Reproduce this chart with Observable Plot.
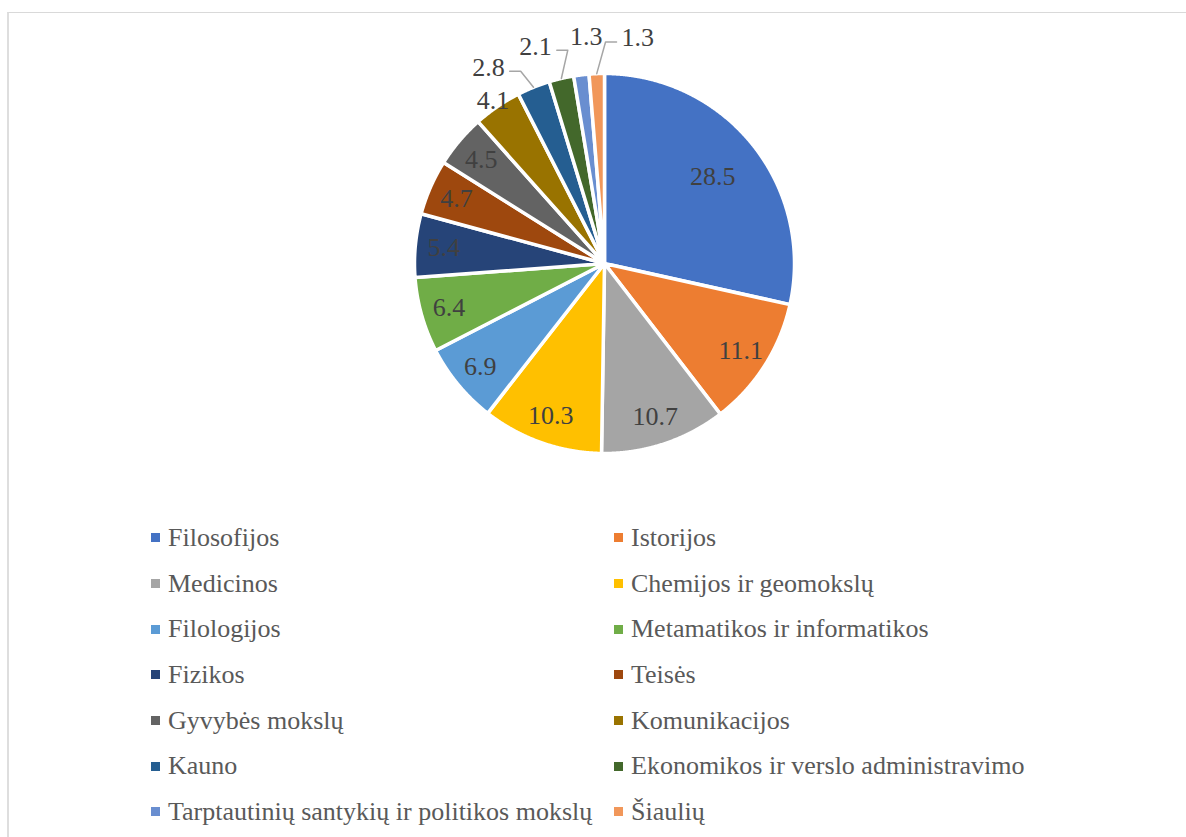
<!DOCTYPE html>
<html><head><meta charset="utf-8">
<script src="https://cdn.jsdelivr.net/npm/d3@7"></script>
<script src="https://cdn.jsdelivr.net/npm/@observablehq/plot@0.6"></script>
<style>
html,body{margin:0;padding:0;background:#fff;overflow:hidden;}
#wrap{position:relative;width:1186px;height:837px;overflow:hidden;font-family:"Liberation Serif","Times New Roman",serif;}
#frame{position:absolute;left:7px;top:12px;width:1300px;height:1000px;border-top:1px solid #d9d9d9;border-left:2px solid #dedede;}
#chart{position:absolute;left:0;top:0;}
#legend{position:absolute;left:151px;top:515px;display:grid;grid-template-columns:463px auto;grid-auto-rows:45.7px;}
.item{display:flex;align-items:center;font-size:26px;line-height:45.7px;color:#595959;white-space:nowrap;}
.sw{width:9px;height:9px;margin-right:8px;flex:none;}
</style></head>
<body>
<div id="wrap">
  <div id="frame"></div>
  <div id="chart"></div>
  <div id="legend"></div>
</div>
<script>
const categories = ["Filosofijos","Istorijos","Medicinos","Chemijos ir geomokslų","Filologijos","Metamatikos ir informatikos","Fizikos","Teisės","Gyvybės mokslų","Komunikacijos","Kauno","Ekonomikos ir verslo administravimo","Tarptautinių santykių ir politikos mokslų","Šiaulių"];
const values = [28.5,11.1,10.7,10.3,6.9,6.4,5.4,4.7,4.5,4.1,2.8,2.1,1.3,1.3];
const colors = ["#4472C4","#ED7D31","#A5A5A5","#FFC000","#5B9BD5","#70AD47","#264478","#9E480E","#636363","#997300","#255E91","#43682B","#698ED0","#F1975A"];

const data = categories.map((name, i) => ({name, value: values[i]}));

// layout
const W = 1186, H = 480, mL = 414, mR = 392, mT = 73, mB = 27;
const rpx = (W - mL - mR) / 2;
const fontSize = 26;
const fmt = d3.format(".1f");
const textW = s => fontSize * [...s].reduce((a, c) => a + (c === "." ? 0.25 : 0.5), 0);

const arcs = d3.pie().sort(null).value(d => d.value)(data);

// slice polygons in unit-circle coordinates
const slicePts = [];
for (const a of arcs) {
  const nm = a.data.name;
  slicePts.push({name: nm, x: 0, y: 0});
  const n = Math.max(2, Math.ceil((a.endAngle - a.startAngle) / 0.004));
  for (let k = 0; k <= n; k++) {
    const t = a.startAngle + (a.endAngle - a.startAngle) * k / n;
    slicePts.push({name: nm, x: Math.sin(t), y: Math.cos(t)});
  }
  slicePts.push({name: nm, x: 0, y: 0});
}

// labels
const labels = arcs.map(a => {
  const mid = (a.startAngle + a.endAngle) / 2;
  const span = a.endAngle - a.startAngle;
  const txt = fmt(a.data.value);
  const w = textW(txt);
  let tier;
  if (span * 0.85 * rpx >= w + 12) tier = "in";
  else if (span * rpx >= w + 12) tier = "near";
  else tier = "far";
  return {name: a.data.name, mid, ang: mid, txt, w, tier,
          r: tier === "in" ? (span > 1.2 ? 0.73 : 0.85) : tier === "near" ? 1.04 : 1.2};
});
// spread far labels so they don't collide (mean preserving)
const far = labels.filter(l => l.tier === "far").sort((a, b) => a.mid - b.mid);
if (far.length > 1) {
  const step = 13 * Math.PI / 180;
  const mean = d3.mean(far, l => l.mid);
  far.forEach((l, i) => { l.ang = mean + (i - (far.length - 1) / 2) * step; });
}
labels.forEach(l => { l.x = l.r * Math.sin(l.ang); l.y = l.r * Math.cos(l.ang); });

// leader lines for far labels moved away from their slice
const leaders = [];
for (const l of far) {
  if (Math.abs(l.ang - l.mid) < 2.5 * Math.PI / 180) continue;
  const ex = Math.sin(l.mid), ey = Math.cos(l.mid);
  const side = l.x < ex ? 1 : -1;
  const yl = l.y - 4 / rpx;
  const endX = l.x + side * (l.w / 2 + 5) / rpx;
  const elbX = endX + side * 11 / rpx;
  leaders.push({name: l.name, x: ex, y: ey}, {name: l.name, x: elbX, y: yl}, {name: l.name, x: endX, y: yl});
}

const chart = Plot.plot({
  width: W, height: H,
  marginLeft: mL, marginRight: mR, marginTop: mT, marginBottom: mB,
  x: {domain: [-1, 1], axis: null},
  y: {domain: [-1, 1], axis: null},
  color: {domain: categories, range: colors},
  style: {fontFamily: "'Liberation Serif', 'Times New Roman', serif", background: "transparent"},
  marks: [
    Plot.line(slicePts, {x: "x", y: "y", z: "name", fill: "name", stroke: "white", strokeWidth: 3.5, strokeLinejoin: "round", curve: "linear"}),
    Plot.line(leaders, {x: "x", y: "y", z: "name", stroke: "#a6a6a6", strokeWidth: 1.5, curve: "linear"}),
    Plot.text(labels, {x: "x", y: "y", text: "txt", fontSize: fontSize, fill: "#404040", textAnchor: "middle", lineAnchor: "middle"})
  ]
});
document.getElementById("chart").appendChild(chart);

// legend (row-major, two columns)
const leg = document.getElementById("legend");
categories.forEach((c, i) => {
  const it = document.createElement("div");
  it.className = "item";
  const sw = document.createElement("span");
  sw.className = "sw";
  sw.style.background = colors[i];
  const t = document.createElement("span");
  t.textContent = c;
  it.appendChild(sw); it.appendChild(t);
  leg.appendChild(it);
});
</script>
</body></html>
